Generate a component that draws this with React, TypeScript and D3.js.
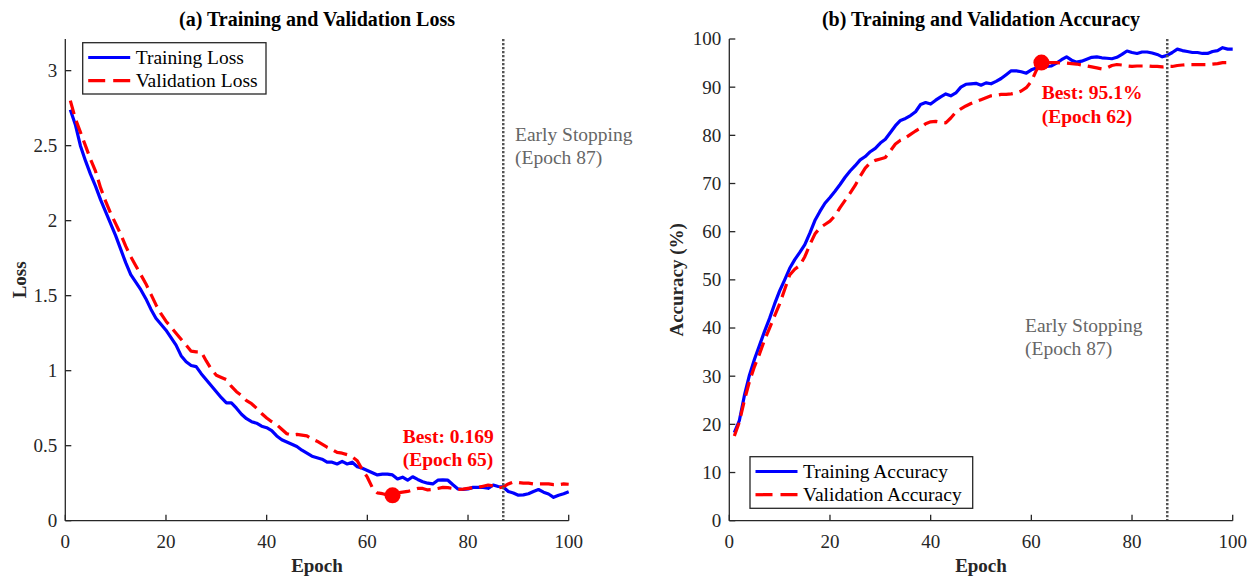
import React from "react";
import * as d3 from "d3";

const epochs: number[] = Array.from({ length: 100 }, (_, i) => i + 1);

const trainLoss: number[] = [
  2.74, 2.64, 2.5, 2.4, 2.31, 2.23, 2.14, 2.06, 1.98, 1.9,
  1.81, 1.72, 1.64, 1.59, 1.54, 1.48, 1.41, 1.35, 1.31, 1.27,
  1.22, 1.17, 1.1, 1.06, 1.035, 1.027, 0.98, 0.94, 0.9, 0.86,
  0.82, 0.785, 0.785, 0.75, 0.71, 0.68, 0.66, 0.65, 0.63, 0.62,
  0.6, 0.565, 0.54, 0.525, 0.51, 0.495, 0.47, 0.45, 0.43, 0.42,
  0.41, 0.39, 0.39, 0.378, 0.395, 0.378, 0.39, 0.36, 0.35, 0.335,
  0.32, 0.305, 0.31, 0.31, 0.305, 0.278, 0.29, 0.27, 0.293, 0.275,
  0.26, 0.25, 0.245, 0.27, 0.272, 0.27, 0.24, 0.212, 0.208, 0.212,
  0.222, 0.222, 0.222, 0.216, 0.238, 0.228, 0.225, 0.195, 0.185, 0.17,
  0.172, 0.18, 0.195, 0.208, 0.19, 0.178, 0.156, 0.17, 0.18, 0.193,
];

const valLoss: number[] = [
  2.8, 2.68, 2.59, 2.5, 2.41, 2.33, 2.22, 2.13, 2.05, 1.98,
  1.91, 1.83, 1.76, 1.7, 1.64, 1.58, 1.51, 1.44, 1.38, 1.33,
  1.29, 1.25, 1.21, 1.17, 1.13, 1.125, 1.125, 1.065, 1.01, 0.97,
  0.955, 0.94, 0.895, 0.86, 0.835, 0.8, 0.78, 0.75, 0.715, 0.685,
  0.66, 0.64, 0.61, 0.58, 0.57, 0.575, 0.57, 0.565, 0.545, 0.53,
  0.51, 0.49, 0.475, 0.455, 0.45, 0.44, 0.425, 0.4, 0.34, 0.29,
  0.22, 0.185, 0.18, 0.172, 0.169, 0.185, 0.19, 0.195, 0.205, 0.215,
  0.215, 0.205, 0.208, 0.215, 0.222, 0.22, 0.215, 0.208, 0.21, 0.215,
  0.22, 0.222, 0.23, 0.238, 0.232, 0.218, 0.225, 0.245, 0.258, 0.255,
  0.25, 0.25, 0.245, 0.245, 0.245, 0.245, 0.24, 0.24, 0.245, 0.243,
];

const trainAcc: number[] = [
  18.3, 20.8, 26.0, 30.2, 33.5, 36.4, 39.3, 42.0, 45.0, 47.7,
  50.0, 52.4, 54.2, 55.7, 57.3, 59.7, 62.3, 64.2, 65.9, 67.1,
  68.4, 69.8, 71.3, 72.6, 73.7, 74.9, 75.6, 76.6, 77.3, 78.4,
  79.2, 80.6, 82.0, 83.1, 83.5, 84.1, 84.9, 86.4, 86.8, 86.5,
  87.3, 88.0, 88.6, 88.2, 88.8, 90.0, 90.6, 90.7, 90.8, 90.4,
  90.9, 90.7, 91.2, 91.8, 92.6, 93.4, 93.4, 93.2, 92.9, 93.6,
  94.0, 94.4, 94.3, 94.4, 95.0, 95.7, 96.3, 95.6, 95.2, 95.4,
  95.8, 96.2, 96.3, 96.1, 96.0, 95.9, 96.2, 96.8, 97.5, 97.2,
  97.0, 97.3, 97.3, 97.1, 96.8, 96.3, 96.6, 97.2, 97.9, 97.6,
  97.4, 97.2, 97.2, 97.0, 97.0, 97.4, 97.6, 98.2, 97.9, 97.9,
];

const valAcc: number[] = [
  17.6, 20.5, 25.0, 28.9, 32.0, 34.6, 37.5, 40.0, 42.5, 45.0,
  48.0, 51.0, 52.2, 53.0, 54.8, 57.3, 59.5, 60.8, 61.5, 62.2,
  63.3, 65.0, 66.5, 68.0, 69.6, 71.5, 73.2, 74.3, 74.8, 75.1,
  75.4, 76.8, 78.2, 79.0, 79.5, 80.2, 80.9, 81.5, 82.4, 82.8,
  82.9, 82.7, 82.6, 83.6, 84.8, 85.5, 86.1, 86.6, 87.0, 87.4,
  87.8, 88.2, 88.3, 88.5, 88.5, 88.6, 88.8, 89.2, 89.9, 91.2,
  93.5, 95.1, 95.1, 95.1, 95.1, 95.0, 95.0, 94.9, 94.8, 94.6,
  94.4, 94.2, 94.0, 93.8, 94.0, 94.5, 94.7, 94.6, 94.4, 94.3,
  94.4, 94.4, 94.4, 94.3, 94.3, 94.2, 94.3, 94.3, 94.5, 94.6,
  94.7, 94.7, 94.7, 94.7, 94.7, 94.8, 94.9, 95.1, 95.1, 95.2,
];

const xTicks: number[] = [0, 20, 40, 60, 80, 100];
const lossTicks: number[] = [0, 0.5, 1, 1.5, 2, 2.5, 3];
const accTicks: number[] = [0, 10, 20, 30, 40, 50, 60, 70, 80, 90, 100];

const earlyStopEpoch = 87;
const bestLoss = { epoch: 65, value: 0.169 };
const bestAcc = { epoch: 62, value: 95.1 };

const FONT = "'Liberation Serif', 'Times New Roman', Times, serif";
const AX = "#262626";
const BLUE = "#0000ff";
const RED = "#ff0000";
const GRAY = "#666666";

type PanelProps = {
  x0: number;
  x1: number;
  yMax: number;
  yTicks: number[];
  train: number[];
  val: number[];
  title: string;
  ylabel: string;
  ylabelX: number;
  legendNames: [string, string];
  legendBox: { x: number; y: number; w: number; h: number };
  esText: { x: number; y: number };
  best: { epoch: number; value: number };
  bestLabel: [string, string];
  bestText: { x: number; y: number };
};

function Panel(p: PanelProps) {
  const yTop = 39;
  const yBot = 520.7;
  const xs = d3.scaleLinear().domain([0, 100]).range([p.x0, p.x1]);
  const ys = d3.scaleLinear().domain([0, p.yMax]).range([yBot, yTop]);
  const line = d3
    .line<number>()
    .x((_, i) => xs(epochs[i]))
    .y((d) => ys(d));
  const fmt = (v: number) => String(v);
  const lb = p.legendBox;
  return (
    <g>
      <text
        x={(p.x0 + p.x1) / 2}
        y={25.5}
        textAnchor="middle"
        fontFamily={FONT}
        fontWeight="bold"
        fontSize={20}
        fill="#000"
      >
        {p.title}
      </text>
      {/* curves */}
      <path
        d={line(p.train) || ""}
        fill="none"
        stroke={BLUE}
        strokeWidth={3.2}
        strokeLinejoin="round"
      />
      <path
        d={line(p.val) || ""}
        fill="none"
        stroke={RED}
        strokeWidth={3.2}
        strokeDasharray="14,7"
        strokeLinejoin="round"
      />
      {/* early stopping line */}
      <line
        x1={xs(earlyStopEpoch)}
        x2={xs(earlyStopEpoch)}
        y1={yTop}
        y2={yBot}
        stroke="#555555"
        strokeWidth={2.5}
        strokeDasharray="2.2,1.8"
      />
      <text fontFamily={FONT} fontSize={19.5} fill={GRAY}>
        <tspan x={p.esText.x} y={p.esText.y}>Early Stopping</tspan>
        <tspan x={p.esText.x} y={p.esText.y + 23}>(Epoch 87)</tspan>
      </text>
      {/* best marker */}
      <circle cx={xs(p.best.epoch)} cy={ys(p.best.value)} r={8} fill={RED} />
      <text fontFamily={FONT} fontSize={19.5} fontWeight="bold" fill={RED}>
        <tspan x={p.bestText.x} y={p.bestText.y}>{p.bestLabel[0]}</tspan>
        <tspan x={p.bestText.x} y={p.bestText.y + 23.5}>{p.bestLabel[1]}</tspan>
      </text>
      {/* axes */}
      <line x1={p.x0} x2={p.x0} y1={yTop} y2={yBot} stroke={AX} strokeWidth={1.3} />
      <line x1={p.x0} x2={p.x1} y1={yBot} y2={yBot} stroke={AX} strokeWidth={1.3} />
      {xTicks.map((t) => (
        <g key={"x" + t}>
          <line x1={xs(t)} x2={xs(t)} y1={yBot} y2={yBot - 6} stroke={AX} strokeWidth={1.3} />
          <text
            x={xs(t)}
            y={548}
            textAnchor="middle"
            fontFamily={FONT}
            fontSize={19}
            fill={AX}
          >
            {fmt(t)}
          </text>
        </g>
      ))}
      {p.yTicks.map((t) => (
        <g key={"y" + t}>
          <line x1={p.x0} x2={p.x0 + 6} y1={ys(t)} y2={ys(t)} stroke={AX} strokeWidth={1.3} />
          <text
            x={p.x0 - 8}
            y={ys(t)}
            dy="0.34em"
            textAnchor="end"
            fontFamily={FONT}
            fontSize={19}
            fill={AX}
          >
            {fmt(t)}
          </text>
        </g>
      ))}
      <text
        x={(p.x0 + p.x1) / 2}
        y={572}
        textAnchor="middle"
        fontFamily={FONT}
        fontWeight="bold"
        fontSize={19}
        fill={AX}
      >
        Epoch
      </text>
      <text
        transform={`translate(${p.ylabelX},${(yTop + yBot) / 2}) rotate(-90)`}
        textAnchor="middle"
        fontFamily={FONT}
        fontWeight="bold"
        fontSize={19}
        fill={AX}
      >
        {p.ylabel}
      </text>
      {/* legend */}
      <rect x={lb.x} y={lb.y} width={lb.w} height={lb.h} fill="#fff" stroke={AX} strokeWidth={1.3} />
      <line
        x1={lb.x + 5.5}
        x2={lb.x + 47.5}
        y1={lb.y + 14.8}
        y2={lb.y + 14.8}
        stroke={BLUE}
        strokeWidth={3.2}
      />
      <line
        x1={lb.x + 5.5}
        x2={lb.x + 47.5}
        y1={lb.y + 38}
        y2={lb.y + 38}
        stroke={RED}
        strokeWidth={3.2}
        strokeDasharray="17,8"
      />
      <text fontFamily={FONT} fontSize={19.5} fill="#000">
        <tspan x={lb.x + 53} y={lb.y + 14.8} dy="0.34em">{p.legendNames[0]}</tspan>
        <tspan x={lb.x + 53} y={lb.y + 38} dy="0.34em">{p.legendNames[1]}</tspan>
      </text>
    </g>
  );
}

export default function App() {
  return (
    <svg
      width={1249}
      height={576}
      viewBox="0 0 1249 576"
      style={{ position: "absolute", left: 0, top: 0, background: "#fff" }}
    >
      <rect x={0} y={0} width={1249} height={576} fill="#fff" />
      <Panel
        x0={65.3}
        x1={568.7}
        yMax={3.211}
        yTicks={lossTicks}
        train={trainLoss}
        val={valLoss}
        title="(a) Training and Validation Loss"
        ylabel="Loss"
        ylabelX={26}
        legendNames={["Training Loss", "Validation Loss"]}
        legendBox={{ x: 82.7, y: 42.7, w: 183.3, h: 51.3 }}
        esText={{ x: 515, y: 141 }}
        best={bestLoss}
        bestLabel={["Best: 0.169", "(Epoch 65)"]}
        bestText={{ x: 402.7, y: 442.7 }}
      />
      <Panel
        x0={729.3}
        x1={1232.7}
        yMax={100}
        yTicks={accTicks}
        train={trainAcc}
        val={valAcc}
        title="(b) Training and Validation Accuracy"
        ylabel="Accuracy (%)"
        ylabelX={683}
        legendNames={["Training Accuracy", "Validation Accuracy"]}
        legendBox={{ x: 750, y: 456.7, w: 222.7, h: 51.6 }}
        esText={{ x: 1025, y: 332 }}
        best={bestAcc}
        bestLabel={["Best: 95.1%", "(Epoch 62)"]}
        bestText={{ x: 1041.7, y: 99.3 }}
      />
    </svg>
  );
}
